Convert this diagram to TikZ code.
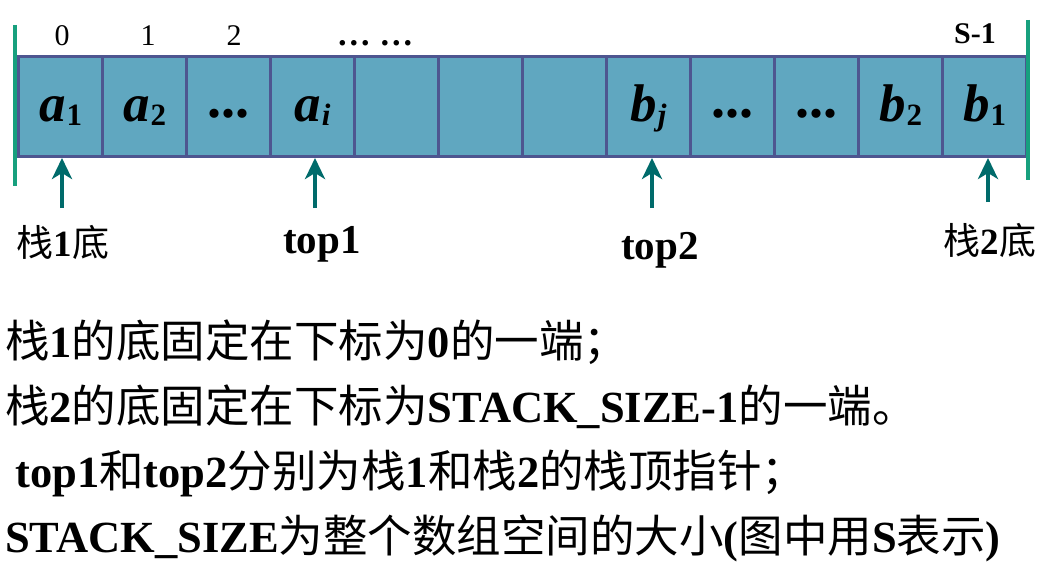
\documentclass[tikz,border=0pt]{standalone}
\usepackage{fontspec}
\setmainfont{Liberation Serif}
\newfontfamily\cjk{Noto Sans CJK SC}
\usetikzlibrary{arrows.meta}
\newcommand\zh[1]{{\cjk #1}}
\newcommand\cellsub[2]{{\fontsize{53}{53}\selectfont\bfseries\itshape #1}\kern1pt\raisebox{-0.4em}{\fontsize{31}{31}\selectfont\bfseries #2}}
\newcommand\cellsubit[2]{{\fontsize{53}{53}\selectfont\bfseries\itshape #1}\kern1pt\raisebox{-0.4em}{\fontsize{31}{31}\selectfont\bfseries\itshape #2}}
\newcommand\celldots{{\fontsize{56}{56}\selectfont\bfseries\raisebox{0.08em}{...}}}
\definecolor{cellfill}{HTML}{60A7C0}
\definecolor{celledge}{HTML}{4E5690}
\definecolor{barcol}{HTML}{17A07E}
\definecolor{arrcol}{HTML}{006B6B}
\tikzset{
  cellbox/.style={draw=celledge, line width=3pt, fill=cellfill, minimum width=84pt, minimum height=100pt, inner sep=0pt, anchor=north west},
  barline/.style={draw=barcol, line width=4pt},
  ptr/.style={draw=arrcol, line width=4pt, -{Stealth[length=21pt,width=20pt,inset=6pt]}},
  idx/.style={font=\fontsize{30}{30}\selectfont, anchor=base, inner sep=0pt},
  lbl/.style={anchor=base, inner sep=0pt},
  txtline/.style={anchor=base west, inner sep=0pt, font=\fontsize{44.5}{44.5}\selectfont}
}
\begin{document}
\begin{tikzpicture}[x=1pt,y=-1pt]
\useasboundingbox[fill=white] (0,0) rectangle (1062,578);
% cells
\foreach \i in {1,...,12} {
  \node[cellbox] (c\i) at ({17+84*(\i-1)},55) {};
}
% cell contents
\node[lbl] (v1) at ([yshift=-15pt]c1.center) {\cellsub{a}{1}};
\node[lbl] (v2) at ([yshift=-15pt]c2.center) {\cellsub{a}{2}};
\node[lbl] (v3) at ([yshift=-15pt]c3.center) {\celldots};
\node[lbl] (v4) at ([yshift=-15pt]c4.center) {\cellsubit{a}{i}};
\node[lbl] (v8) at ([yshift=-15pt]c8.center) {\cellsubit{b}{j}};
\node[lbl] (v9) at ([yshift=-15pt]c9.center) {\celldots};
\node[lbl] (v10) at ([yshift=-15pt]c10.center) {\celldots};
\node[lbl] (v11) at ([yshift=-15pt]c11.center) {\cellsub{b}{2}};
\node[lbl] (v12) at ([yshift=-15pt]c12.center) {\cellsub{b}{1}};
% green end bars
\coordinate (lbt) at (15,25);
\coordinate (lbb) at (15,186);
\coordinate (rbt) at (1028,20);
\coordinate (rbb) at (1028,180);
\draw[barline] (lbt) -- (lbb);
\draw[barline] (rbt) -- (rbb);
% indices
\node[idx] (i0) at (62,46) {0};
\node[idx] (i1) at (148,46) {1};
\node[idx] (i2) at (234,46) {2};
\node[idx, font=\fontsize{34}{34}\selectfont\bfseries] (idots) at (375,46) {\dots\ \dots};
\node[idx, font=\fontsize{30}{30}\selectfont\bfseries] (ilast) at (975,44) {S-1};
% pointer labels
\node[lbl, font=\fontsize{37}{37}\selectfont] (bot1) at (63,256) {\zh{栈}\textbf{1}\zh{底}};
\node[lbl, font=\fontsize{41}{41}\selectfont\bfseries] (top1) at (322,253) {top1};
\node[lbl, font=\fontsize{41}{41}\selectfont\bfseries] (top2) at (660,259) {top2};
\node[lbl, font=\fontsize{37}{37}\selectfont] (bot2) at (990,254) {\zh{栈}\textbf{2}\zh{底}};
% pointer arrows
\coordinate (p1) at (62,208);
\coordinate (p2) at (315,208);
\coordinate (p3) at (652,208);
\coordinate (p4) at (988,202);
\draw[ptr] (p1) -- (p1 |- c1.south);
\draw[ptr] (p2) -- (p2 |- c4.south);
\draw[ptr] (p3) -- (p3 |- c8.south);
\draw[ptr] (p4) -- (p4 |- c12.south);
% explanation text
\node[txtline] (t1) at (5,357) {\zh{栈}\textbf{1}\zh{的底固定在下标为}\textbf{0}\zh{的一端；}};
\node[txtline] (t2) at (5,422) {\zh{栈}\textbf{2}\zh{的底固定在下标为}\textbf{STACK\_SIZE-1}\zh{的一端。}};
\node[txtline] (t3) at (15,487) {\textbf{top1}\zh{和}\textbf{top2}\zh{分别为栈}\textbf{1}\zh{和栈}\textbf{2}\zh{的栈顶指针；}};
\node[txtline] (t4) at (5,552) {\textbf{STACK\_SIZE}\zh{为整个数组空间的大小}\textbf{(}\zh{图中用}\textbf{S}\zh{表示}\textbf{)}};
\end{tikzpicture}
\end{document}
